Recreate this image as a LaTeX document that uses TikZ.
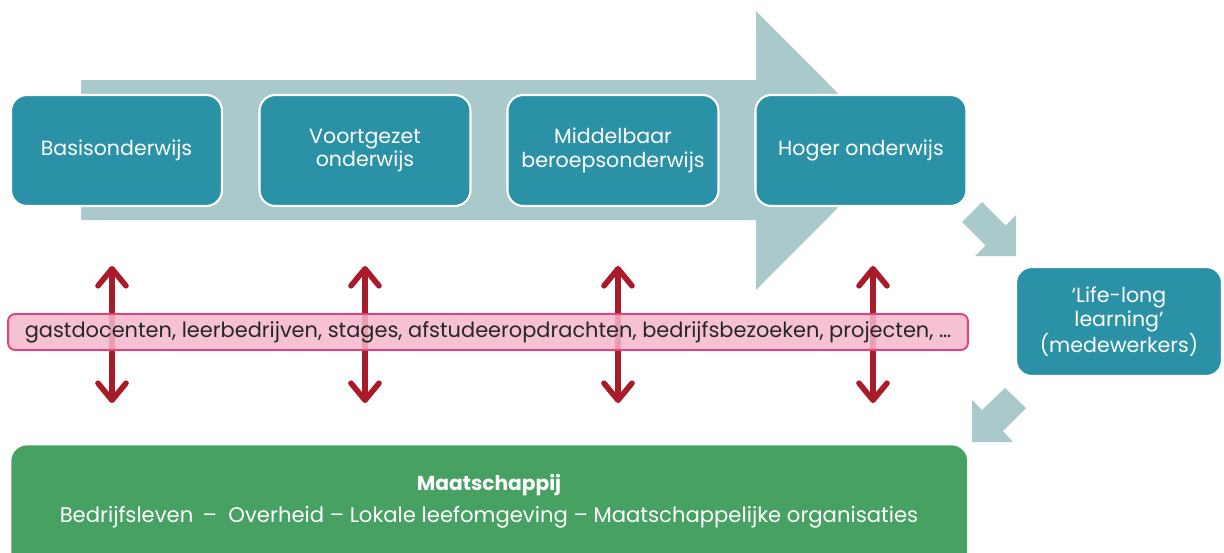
\documentclass[tikz,border=0pt]{standalone}
\usepackage{fontspec}
\setmainfont{Poppins}
\usetikzlibrary{arrows.meta}
\definecolor{teal}{HTML}{2A91A6}
\definecolor{lightarrow}{HTML}{A9C9CB}
\definecolor{pinkfill}{HTML}{F5B6CB}
\definecolor{pinkline}{HTML}{E5407A}
\definecolor{redarrow}{HTML}{A91B2B}
\definecolor{greenbox}{HTML}{46A163}
\tikzset{
  stage/.style={fill=teal, draw=white, line width=1.2pt, rounded corners=9pt,
    minimum width=4.22cm, minimum height=2.22cm, text=white, align=center,
    font=\fontsize{11.7}{13.5}\selectfont, inner sep=0pt},
  bigarrow/.style={fill=lightarrow, draw=none},
  linkarrow/.style={draw=redarrow, line width=3.2pt, line cap=round,
    {Straight Barb[length=3.4mm,width=5.6mm,round]}-{Straight Barb[length=3.4mm,width=5.6mm,round]}},
}
\begin{document}
\begin{tikzpicture}[x=0.02cm,y=-0.02cm]
\useasboundingbox (0,0) rectangle (1224,552);
% big arrow
\fill[bigarrow] (81,80) -- (756,80) -- (756,11) -- (895,150.5) -- (756,290) -- (756,220) -- (81,220) -- cycle;
% stages
\node[stage] (basis) at (116.5,150.5) {Basisonderwijs};
\node[stage] (vo) at (365,150.5) {Voortgezet\\onderwijs};
\node[stage] (mbo) at (613,150.5) {Middelbaar\\beroepsonderwijs};
\node[stage] (ho) at (861,150.5) {Hoger onderwijs};
% small arrow down-right
\fill[bigarrow] (962,222) -- (982,202) -- (1005.5,225.5) -- (1016,215) -- (1016,256) -- (975,256) -- (985.5,245.5) -- cycle;
% life-long box
\node[stage, minimum width=4.12cm, minimum height=2.18cm] (lll) at (1119,321.5) {‘Life-long\\learning’\\(medewerkers)};
% small arrow down-left
\fill[bigarrow] (1005,388) -- (1026,408) -- (1003,431) -- (1013,442) -- (972,442) -- (972,400) -- (982,410) -- cycle;
% society box
\node[fill=greenbox, rounded corners=9pt, minimum width=19.12cm, minimum height=2.5cm, inner sep=0pt,
  anchor=north west] (soc) at (11,445) {};
\node[text=white, font=\fontsize{11.5}{14}\selectfont\bfseries] (soctitle) at (489,485) {Maatschappij};
\node[text=white, font=\fontsize{12.05}{14}\selectfont] (socsub) at (489,517) {Bedrijfsleven \,–\; Overheid – Lokale leefomgeving – Maatschappelijke organisaties};
% red arrows
\foreach \x/\n in {112/a,365/b,618/c,873/d}{
  \coordinate (top\n) at (\x,266);
  \coordinate (bot\n) at (\x,403);
  \draw[linkarrow] (top\n) -- (bot\n);
}
% pink bar
\node[fill=pinkfill, fill opacity=0.85, text opacity=1, draw=pinkline, line width=1.1pt, rounded corners=4pt,
  minimum width=19.2cm, minimum height=0.72cm, inner sep=0pt, text=black!85, font=\fontsize{11.9}{14}\selectfont] (bar) at (488,332)
  {gastdocenten, leerbedrijven, stages, afstudeeropdrachten, bedrijfsbezoeken, projecten, …};
\end{tikzpicture}
\end{document}
